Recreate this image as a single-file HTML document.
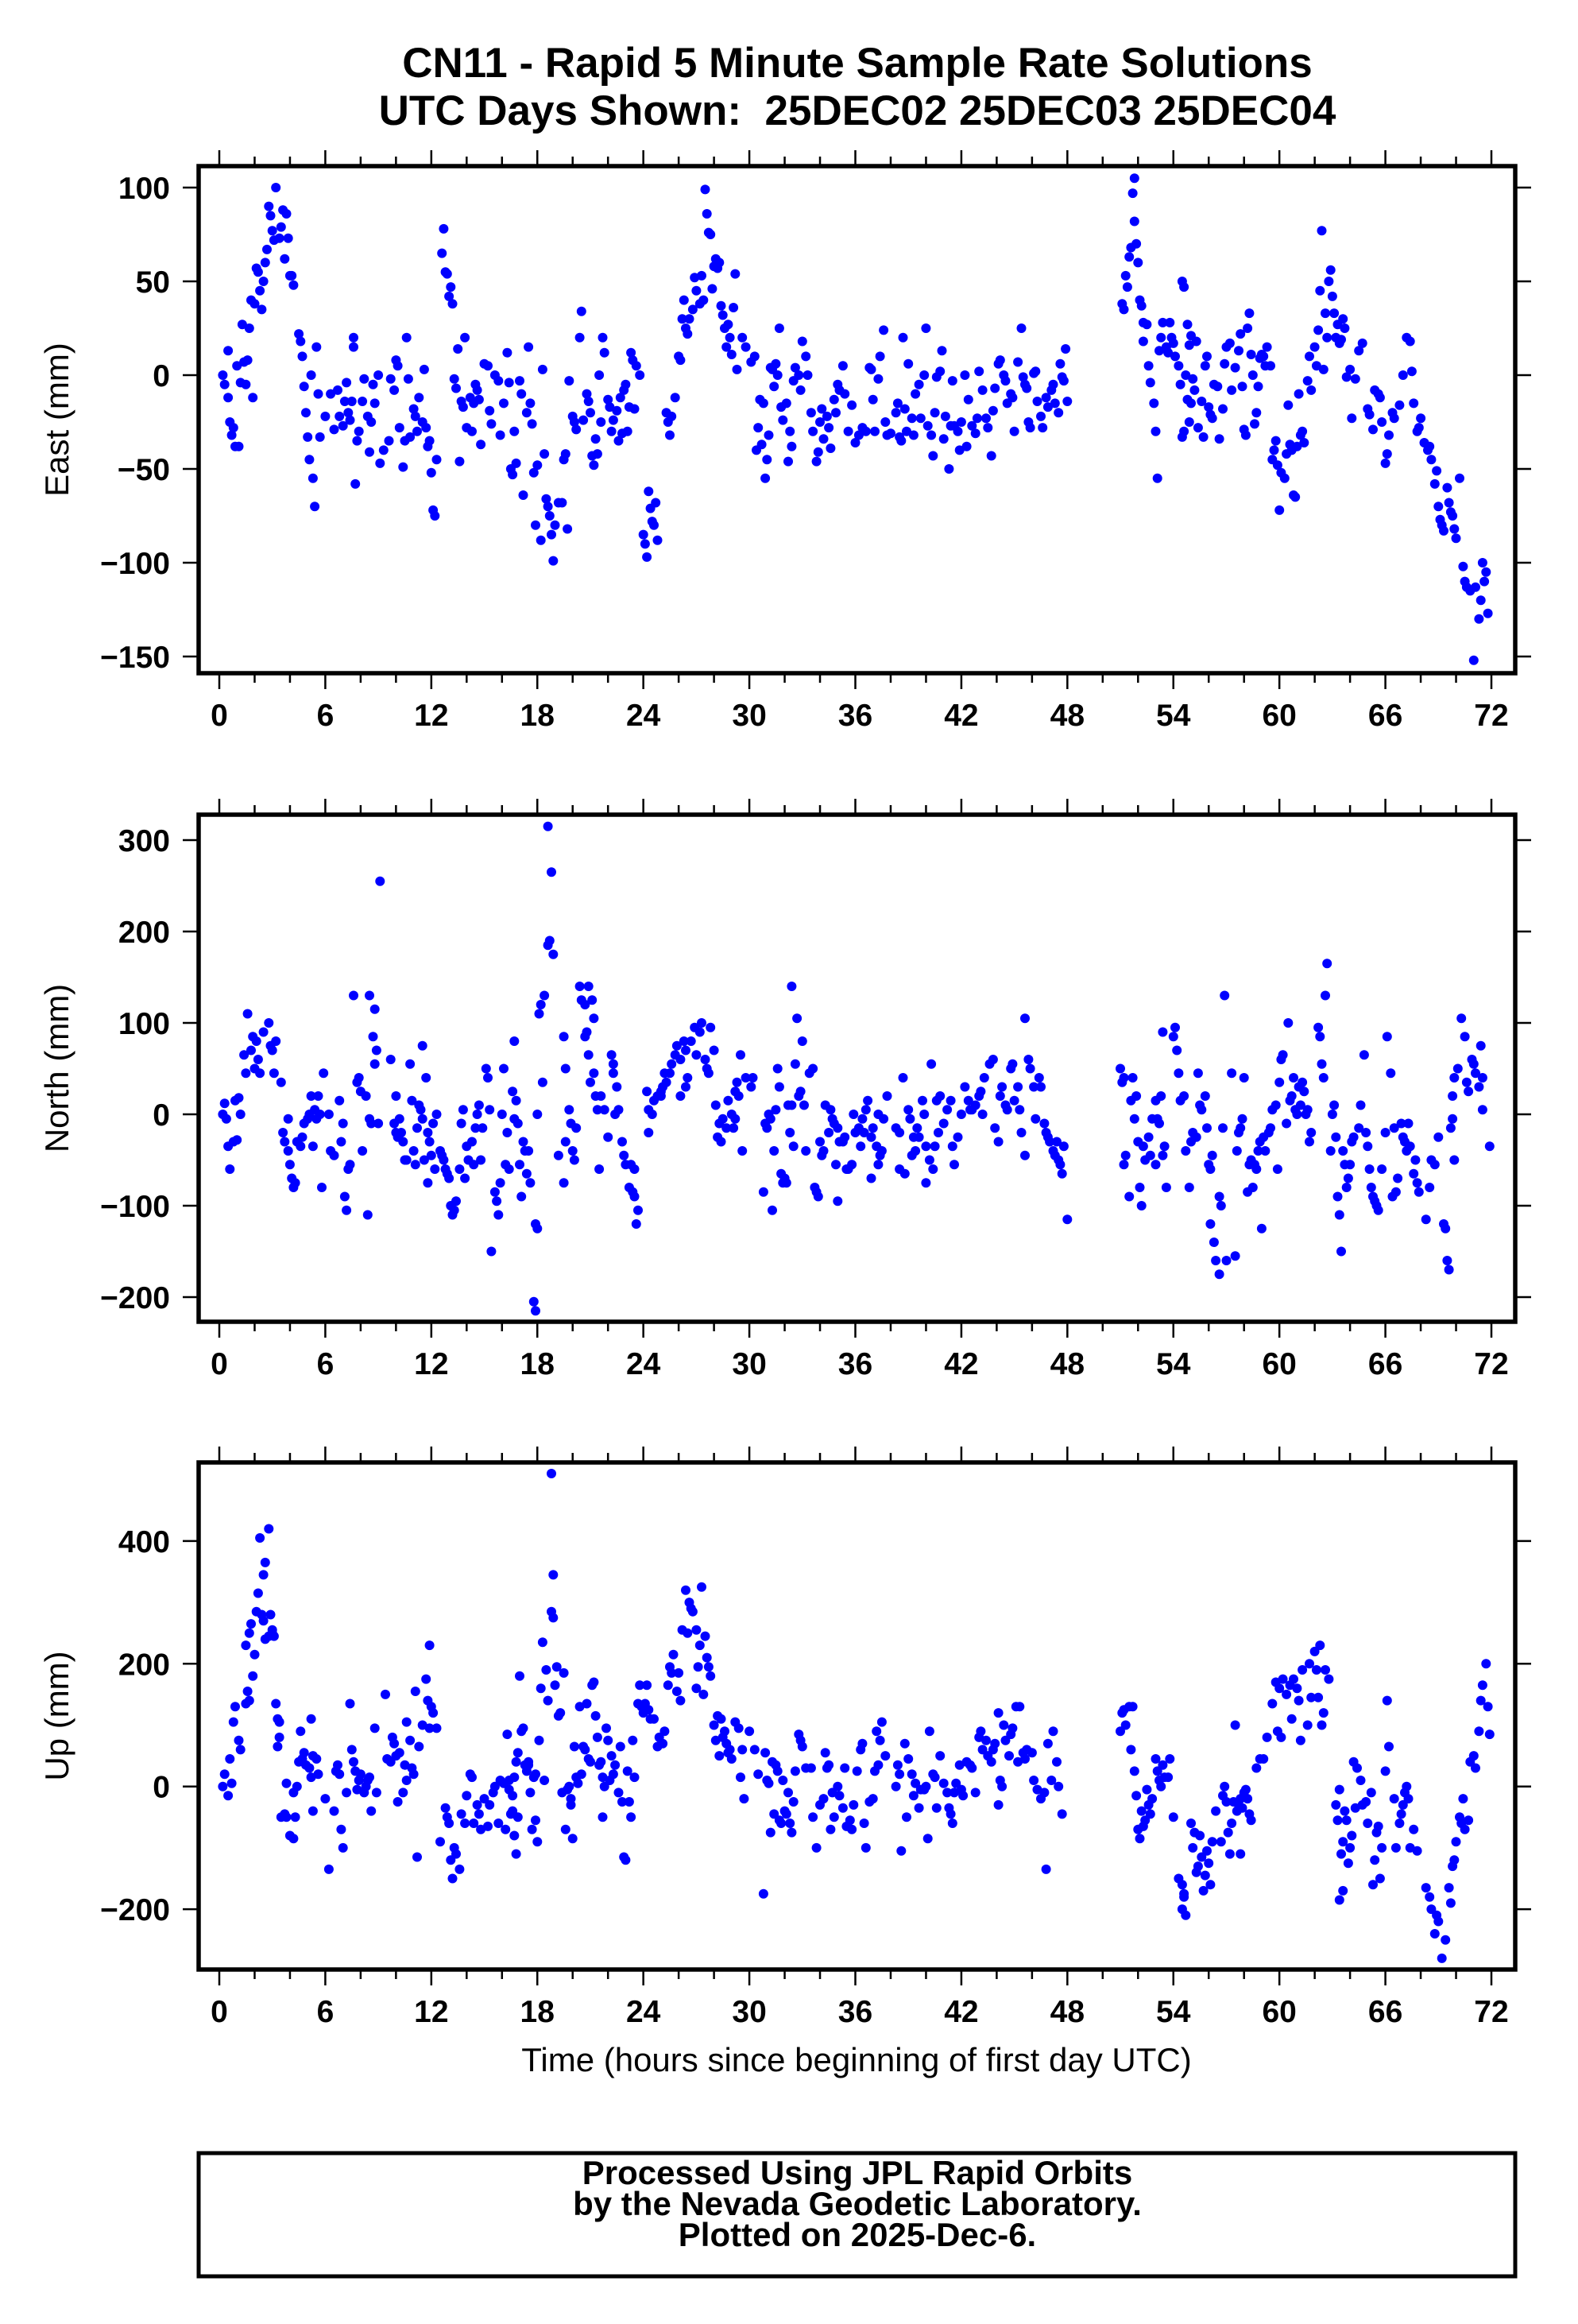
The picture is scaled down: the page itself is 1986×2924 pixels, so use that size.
<!DOCTYPE html>
<html><head><meta charset="utf-8"><title>CN11 Rapid 5 Minute Solutions</title>
<style>html,body{margin:0;padding:0;background:#fff}svg{display:block}</style></head>
<body>
<svg id="chart" xmlns="http://www.w3.org/2000/svg" width="1986" height="2924" viewBox="0 0 1986 2924" font-family="'Liberation Sans', Arial, sans-serif">
<rect width="1986" height="2924" fill="#fff"/>
<text x="1079" y="97" font-size="53" font-weight="bold" text-anchor="middle">CN11 - Rapid 5 Minute Sample Rate Solutions</text>
<text x="1079" y="157" font-size="53" font-weight="bold" text-anchor="middle" xml:space="preserve">UTC Days Shown:  25DEC02 25DEC03 25DEC04</text>
<text x="1078" y="2606" font-size="42" text-anchor="middle">Time (hours since beginning of first day UTC)</text>
<rect x="250" y="2709" width="1657" height="155" fill="none" stroke="#000" stroke-width="5"/>
<text x="1079" y="2748" font-size="42" font-weight="bold" text-anchor="middle">Processed Using JPL Rapid Orbits</text>
<text x="1079" y="2787" font-size="42" font-weight="bold" text-anchor="middle">by the Nevada Geodetic Laboratory.</text>
<text x="1079" y="2826" font-size="42" font-weight="bold" text-anchor="middle">Plotted on 2025-Dec-6.</text>
</svg>
<script>
const xTicks=[0,6,12,18,24,30,36,42,48,54,60,66,72];
const eastTicks=[100,50,0,-50,-100,-150];
const northTicks=[300,200,100,0,-100,-200];
const upTicks=[400,200,0,-200];
const east=[[0.2,0],[0.3,-5],[0.5,13],[0.5,-12],[0.6,-25],[0.7,-32],[0.8,-28],[0.9,-38],[1.0,5],[1.1,-38],[1.2,-4],[1.4,7],[1.3,27],[1.5,-5],[1.6,8],[1.7,25],[1.8,40],[1.9,-12],[2.0,38],[2.1,57],[2.2,55],[2.3,45],[2.4,35],[2.5,50],[2.6,60],[2.7,67],[2.8,90],[2.9,85],[3.0,77],[3.1,72],[3.2,100],[3.4,73],[3.5,79],[3.6,88],[3.7,62],[3.8,86],[3.9,73],[4.0,53],[4.1,53],[4.2,48],[4.5,22],[4.6,18],[4.7,10],[4.8,-6],[4.9,-20],[5.0,-33],[5.1,-45],[5.2,0],[5.3,-55],[5.4,-70],[5.6,-10],[5.5,15],[5.7,-33],[6.0,-22],[6.3,-10],[6.5,-29],[6.7,-8],[6.8,-22],[7.0,-27],[7.1,-14],[7.2,-4],[7.3,-20],[7.4,-24],[7.5,-14],[7.6,20],[7.6,15],[7.7,-58],[7.8,-35],[7.9,-30],[8.1,-14],[8.2,-2],[8.4,-22],[8.5,-41],[8.6,-25],[8.7,-5],[8.8,-15],[9.0,0],[9.1,-47],[9.3,-40],[9.6,-35],[9.7,-2],[9.9,-8],[10.0,8],[10.1,5],[10.2,-28],[10.4,-49],[10.5,-35],[10.6,20],[10.7,-2],[10.8,-33],[11.0,-18],[11.1,-22],[11.2,-30],[11.3,-12],[11.5,-25],[11.6,3],[11.7,-28],[11.8,-38],[11.9,-35],[12.0,-52],[12.1,-72],[12.2,-75],[12.3,-45],[12.6,65],[12.7,78],[12.8,55],[12.9,54],[13.0,42],[13.1,47],[13.2,38],[13.3,-2],[13.4,-7],[13.5,14],[13.6,-46],[13.7,-14],[13.8,-17],[13.9,20],[14.0,-28],[14.2,-12],[14.3,-30],[14.4,-15],[14.5,-5],[14.6,-8],[14.7,-13],[14.8,-37],[15.0,6],[15.2,5],[15.3,-19],[15.4,-26],[15.6,0],[15.8,-3],[15.9,-32],[16.1,-15],[16.3,12],[16.4,-4],[16.5,-50],[16.6,-53],[16.7,-30],[16.8,-47],[17.0,-3],[17.1,-10],[17.2,-64],[17.4,-20],[17.5,15],[17.6,-15],[17.7,-26],[17.8,-52],[17.9,-80],[18.0,-48],[18.2,-88],[18.3,3],[18.4,-42],[18.5,-66],[18.6,-70],[18.7,-75],[18.8,-85],[18.9,-99],[19.0,-80],[19.2,-68],[19.4,-68],[19.5,-45],[19.6,-42],[19.7,-82],[19.8,-3],[20.0,-22],[20.1,-25],[20.2,-29],[20.4,20],[20.5,34],[20.6,-24],[20.8,-10],[20.9,-14],[21.0,-20],[21.1,-43],[21.2,-48],[21.3,-34],[21.4,-42],[21.5,0],[21.6,-25],[21.7,20],[21.8,12],[22.0,-13],[22.1,-17],[22.2,-30],[22.3,-24],[22.5,-19],[22.6,-35],[22.7,-12],[22.8,-31],[22.9,-8],[23.0,-5],[23.1,-30],[23.2,-17],[23.3,12],[23.4,8],[23.5,-18],[23.6,5],[23.8,0],[24.0,-85],[24.1,-90],[24.2,-97],[24.3,-62],[24.4,-71],[24.5,-78],[24.6,-80],[24.7,-68],[24.8,-88],[25.3,-20],[25.4,-25],[25.5,-32],[25.6,-22],[25.8,-12],[26.0,10],[26.1,8],[26.2,30],[26.3,40],[26.4,25],[26.5,22],[26.6,30],[26.8,35],[26.9,52],[27.0,45],[27.2,38],[27.3,53],[27.4,40],[27.5,99],[27.6,86],[27.7,76],[27.8,75],[27.9,46],[28.0,58],[28.1,62],[28.2,57],[28.3,60],[28.4,37],[28.5,32],[28.6,25],[28.7,15],[28.8,27],[28.9,20],[29.0,11],[29.1,36],[29.2,54],[29.3,3],[29.6,20],[29.8,15],[30.1,7],[30.3,10],[30.4,-40],[30.5,-28],[30.6,-13],[30.7,-37],[30.8,-15],[30.9,-55],[31.0,-45],[31.1,-32],[31.2,4],[31.3,3],[31.4,-6],[31.5,6],[31.6,0],[31.7,25],[31.8,-17],[31.9,-24],[32.1,-15],[32.2,-46],[32.3,-30],[32.4,-38],[32.5,-3],[32.6,4],[32.8,0],[32.9,-8],[33.0,18],[33.2,10],[33.3,0],[33.5,-20],[33.6,-30],[33.8,-46],[33.9,-41],[34.0,-25],[34.1,-18],[34.2,-34],[34.4,-22],[34.5,-28],[34.6,-39],[34.8,-13],[34.9,-20],[35.0,-5],[35.1,-8],[35.3,5],[35.4,-10],[35.6,-30],[35.8,-16],[36.0,-36],[36.2,-32],[36.4,-28],[36.6,-30],[36.8,4],[36.9,3],[37.0,-13],[37.1,-30],[37.3,-2],[37.4,10],[37.6,24],[37.7,-25],[37.8,-32],[38.0,-31],[38.3,-20],[38.4,-15],[38.5,-33],[38.6,-35],[38.7,20],[38.8,-18],[38.9,-30],[39.0,6],[39.2,-23],[39.3,-32],[39.4,-10],[39.6,-5],[39.7,-23],[39.9,0],[40.0,25],[40.1,-27],[40.3,-32],[40.4,-43],[40.5,-20],[40.6,-1],[40.8,2],[40.9,13],[41.0,-34],[41.1,-22],[41.3,-50],[41.4,-27],[41.5,-3],[41.6,-27],[41.8,-30],[41.9,-40],[42.0,-25],[42.2,0],[42.3,-38],[42.4,-13],[42.6,-27],[42.8,-31],[42.9,-23],[43.0,2],[43.2,-8],[43.4,-23],[43.5,-28],[43.7,-43],[43.8,-19],[43.9,-7],[44.1,6],[44.2,8],[44.4,0],[44.5,-3],[44.6,-15],[44.8,-10],[44.9,-12],[45.0,-30],[45.2,7],[45.4,25],[45.5,-1],[45.6,-5],[45.7,-7],[45.8,-25],[45.9,-28],[46.1,1],[46.2,2],[46.3,-14],[46.5,-22],[46.6,-28],[46.8,-12],[46.9,-17],[47.1,-8],[47.2,-5],[47.3,-15],[47.5,-20],[47.6,6],[47.7,-1],[47.8,-3],[47.9,14],[48.0,-14],[51.1,38],[51.2,35],[51.3,53],[51.4,47],[51.5,63],[51.6,68],[51.7,97],[51.8,105],[51.8,82],[51.9,70],[52.0,60],[52.1,40],[52.2,37],[52.3,28],[52.5,27],[52.3,18],[52.6,5],[52.7,-4],[52.9,-15],[53.0,-30],[53.1,-55],[53.2,13],[53.3,20],[53.4,28],[53.6,15],[53.7,12],[53.8,28],[53.9,20],[54.0,17],[54.1,10],[54.3,5],[54.4,-5],[54.5,-33],[54.6,-30],[54.7,0],[54.8,-13],[54.9,-25],[55.0,-15],[55.1,-2],[55.2,-8],[54.5,50],[54.6,47],[54.8,27],[54.9,16],[55.0,21],[55.3,18],[55.4,-28],[55.6,-14],[55.7,-33],[55.8,5],[55.9,10],[56.0,-17],[56.1,-21],[56.2,-23],[56.3,-5],[56.5,-6],[56.6,-34],[56.8,-18],[56.9,6],[57.0,15],[57.2,17],[57.3,-8],[57.5,4],[57.7,13],[57.8,22],[57.9,-6],[58.0,-29],[58.1,-32],[58.2,25],[58.3,33],[58.4,11],[58.5,0],[58.6,-26],[58.7,-20],[58.8,-6],[58.9,9],[59.0,11],[59.1,10],[59.2,5],[59.3,15],[59.5,5],[59.6,-45],[59.7,-40],[59.8,-35],[59.9,-48],[60.0,-72],[60.1,-52],[60.3,-55],[60.4,-42],[60.5,-16],[60.6,-37],[60.7,-40],[60.8,-64],[60.9,-65],[61.0,-38],[61.1,-10],[61.2,-32],[61.3,-30],[61.4,-36],[61.6,-3],[61.7,10],[61.8,-8],[62.0,15],[62.1,5],[62.2,24],[62.3,45],[62.4,77],[62.5,3],[62.6,33],[62.7,20],[62.8,50],[62.9,56],[63.0,42],[63.1,33],[63.2,20],[63.3,27],[63.4,17],[63.5,19],[63.6,30],[63.7,25],[63.8,-1],[64.0,3],[64.1,-23],[64.3,-2],[64.5,13],[64.7,17],[65.0,-18],[65.1,-21],[65.3,-29],[65.4,-8],[65.6,-10],[65.7,-12],[65.8,-25],[66.0,-47],[66.1,-42],[66.2,-32],[66.4,-20],[66.5,-23],[66.8,-16],[67.0,0],[67.2,20],[67.4,18],[67.5,2],[67.6,-15],[67.8,-30],[67.9,-28],[68.0,-23],[68.2,-36],[68.4,-40],[68.5,-38],[68.6,-45],[68.8,-58],[68.9,-51],[69.0,-70],[69.1,-77],[69.2,-80],[69.3,-83],[69.5,-60],[69.6,-68],[69.7,-73],[69.8,-75],[69.9,-82],[70.0,-87],[70.2,-55],[70.4,-102],[70.5,-110],[70.6,-113],[70.8,-115],[71.0,-152],[71.1,-113],[71.3,-130],[71.4,-120],[71.5,-100],[71.7,-105],[71.6,-110],[71.8,-127]];
const north=[[0.2,0],[0.3,12],[0.4,-5],[0.5,-35],[0.6,-60],[0.8,-30],[0.9,15],[1.0,-28],[1.1,18],[1.2,0],[1.4,65],[1.6,110],[1.5,45],[1.8,70],[1.9,85],[2.0,50],[2.1,80],[2.2,60],[2.3,45],[2.5,90],[2.8,100],[2.9,75],[3.0,70],[3.2,80],[3.1,45],[3.5,35],[3.6,-20],[3.7,-30],[3.9,-40],[3.9,-5],[4.0,-55],[4.1,-70],[4.2,-80],[4.3,-75],[4.4,-30],[4.6,-35],[4.7,-25],[4.8,-10],[5.0,-5],[5.1,0],[5.2,20],[5.3,-35],[5.4,5],[5.5,-5],[5.6,20],[5.7,0],[5.8,-80],[5.9,45],[6.2,0],[6.3,-40],[6.5,-45],[6.8,15],[6.9,-30],[7.0,-10],[7.1,-90],[7.2,-105],[7.3,-60],[7.4,-55],[7.6,130],[7.8,35],[7.9,40],[8.0,25],[8.1,-40],[8.3,20],[8.5,-5],[8.5,130],[8.8,115],[8.7,85],[8.9,70],[8.8,55],[8.4,-110],[8.6,-10],[9.0,-10],[9.1,255],[9.7,60],[9.9,-10],[10.0,-20],[10.1,-25],[10.0,20],[10.2,-5],[10.3,-20],[10.4,-30],[10.5,-50],[10.6,-50],[10.8,55],[10.9,15],[11.0,-40],[11.1,-55],[11.2,-15],[11.3,10],[11.4,5],[11.5,-5],[11.6,-50],[11.5,75],[11.7,40],[11.8,-20],[11.9,-30],[12.0,-45],[12.1,-10],[12.2,-60],[11.8,-75],[12.3,0],[12.6,-45],[12.7,-50],[12.5,-40],[12.8,-60],[12.9,-65],[13.0,-70],[13.1,-100],[13.2,-110],[13.3,-105],[13.4,-95],[13.6,-60],[13.7,-10],[13.8,5],[13.9,-70],[14.0,-35],[14.1,-50],[14.3,-30],[14.4,-55],[14.5,-15],[14.6,0],[14.7,10],[14.9,-15],[14.8,-50],[15.1,50],[15.2,40],[15.3,5],[15.4,-150],[15.6,-85],[15.7,-95],[15.8,-110],[15.9,-75],[16.1,50],[16.0,0],[16.2,-55],[16.3,-20],[16.4,-60],[16.6,25],[16.7,-5],[16.8,15],[16.9,-10],[17.0,-55],[16.7,80],[17.1,-90],[17.2,-30],[17.3,-40],[17.5,-40],[17.4,-65],[17.6,-75],[17.9,-120],[18.0,-125],[17.8,-205],[17.9,-215],[18.0,0],[18.1,110],[18.2,120],[18.4,130],[18.3,35],[18.6,185],[18.7,190],[18.8,265],[18.6,315],[18.9,175],[19.2,-45],[19.5,-75],[19.6,-30],[19.5,85],[19.6,50],[19.8,5],[19.9,-10],[20.0,-40],[20.1,-50],[20.2,-15],[20.4,140],[20.5,125],[20.7,120],[20.9,140],[20.8,90],[20.7,85],[20.9,65],[21.1,125],[21.2,105],[21.0,35],[21.2,45],[21.3,20],[21.4,5],[21.5,-60],[21.6,20],[21.8,5],[22.0,-25],[22.2,65],[22.3,55],[22.4,0],[22.3,45],[22.5,30],[22.6,5],[22.8,-30],[22.9,-45],[23.0,-55],[23.2,-80],[23.4,-85],[23.5,-90],[23.7,-105],[23.6,-120],[23.3,-55],[23.5,-60],[24.2,25],[24.3,5],[24.5,0],[24.3,-20],[24.6,15],[24.8,20],[25.0,25],[25.1,30],[25.2,45],[25.3,35],[25.0,20],[25.6,55],[25.8,65],[25.9,75],[26.1,60],[26.3,80],[25.5,45],[26.1,20],[26.4,70],[26.5,40],[26.4,30],[26.7,80],[26.9,95],[27.0,65],[27.2,90],[27.3,100],[27.5,60],[27.6,50],[27.8,95],[27.7,45],[28.0,70],[28.1,10],[28.2,-25],[28.4,-30],[28.3,-10],[28.5,-5],[28.7,-15],[28.8,15],[29.0,0],[29.1,-15],[29.2,25],[29.3,35],[29.4,20],[29.5,65],[29.2,-5],[29.6,-40],[29.8,40],[30.1,30],[30.2,40],[30.8,-85],[30.9,-10],[31.0,-15],[31.1,0],[31.2,-5],[31.3,-105],[31.4,-40],[31.6,50],[31.5,5],[31.7,30],[31.8,-65],[31.9,-75],[32.0,-70],[32.1,-75],[32.2,10],[32.4,10],[32.3,-20],[32.4,140],[32.6,55],[32.5,-35],[32.7,105],[32.8,20],[32.9,25],[33.0,80],[33.1,10],[33.2,-40],[33.4,45],[33.6,50],[33.7,-80],[33.9,-90],[33.8,-85],[34.0,-30],[34.1,-45],[34.2,-40],[34.3,10],[34.5,-20],[34.6,5],[34.7,-5],[34.8,-10],[34.9,-55],[35.0,-15],[35.1,-30],[35.3,-30],[35.4,-25],[35.5,-60],[35.6,-60],[35.0,-95],[35.8,-55],[35.9,0],[36.0,-20],[36.2,-15],[36.3,-35],[36.4,-5],[36.5,-20],[36.6,5],[36.7,15],[36.9,-25],[36.9,-70],[37.0,-15],[37.2,-35],[37.3,0],[37.3,-55],[37.4,-45],[37.6,-5],[37.8,20],[37.5,-40],[38.3,-15],[38.5,-20],[38.7,40],[38.5,-60],[38.8,-65],[39.0,5],[39.1,-5],[39.3,-25],[39.4,-40],[39.2,-45],[39.5,-15],[39.6,-25],[39.8,15],[39.9,0],[40.0,-35],[40.0,-75],[40.3,55],[40.2,-50],[40.4,-60],[40.5,-35],[40.6,15],[40.8,20],[40.7,-20],[41.0,-10],[41.2,5],[41.4,15],[41.6,-55],[41.5,-35],[41.8,-25],[42.0,0],[42.2,30],[42.4,15],[42.5,5],[42.6,5],[42.8,10],[43.0,20],[43.1,25],[43.3,40],[43.2,0],[43.6,55],[43.8,60],[43.9,-15],[44.1,-30],[44.2,20],[44.3,30],[44.5,10],[44.6,5],[44.8,50],[44.9,55],[45.0,15],[45.2,30],[45.3,5],[45.4,-20],[45.6,-45],[45.6,105],[45.8,60],[45.9,50],[46.1,30],[46.2,-5],[46.4,40],[46.5,30],[46.7,-10],[46.8,-20],[46.9,-25],[47.0,-30],[47.2,-40],[47.3,-45],[47.4,-30],[47.5,-50],[47.6,-55],[47.7,-65],[47.8,-35],[48.0,-115],[51.0,50],[51.2,40],[51.1,35],[51.2,-55],[51.3,-45],[51.5,-90],[51.6,15],[51.7,40],[51.8,-5],[51.9,20],[52.0,-30],[52.1,-80],[52.2,-100],[52.3,-35],[52.4,-50],[52.6,-25],[52.7,-45],[52.8,-5],[53.0,15],[53.1,-5],[53.0,-55],[53.2,-10],[53.4,-45],[53.6,-80],[53.3,20],[53.4,90],[53.5,-35],[54.1,95],[54.0,85],[54.2,70],[54.3,45],[54.4,15],[54.6,20],[54.9,-80],[54.7,-40],[55.0,-30],[55.1,-20],[55.3,-25],[55.4,45],[55.5,10],[55.6,5],[55.8,20],[55.9,-15],[56.0,-55],[56.1,-60],[56.2,-45],[56.1,-120],[56.3,-140],[56.4,-160],[56.6,-175],[56.6,-90],[56.7,-100],[56.9,130],[56.8,-15],[57.0,-160],[57.5,-155],[57.3,45],[57.6,-40],[57.7,-20],[57.8,-15],[57.9,-5],[58.0,40],[58.2,-85],[58.3,-55],[58.4,-50],[58.5,-80],[58.7,-60],[58.8,-40],[58.6,-55],[59.0,-125],[58.9,-30],[59.1,-25],[59.2,-40],[59.4,-20],[59.5,-15],[59.6,5],[59.8,10],[59.9,-60],[60.0,35],[60.1,60],[60.2,65],[60.5,100],[60.4,-10],[60.6,15],[60.7,20],[60.8,40],[60.9,5],[61.0,0],[61.1,30],[61.2,10],[61.3,35],[61.4,25],[61.5,0],[61.6,5],[61.7,-30],[62.2,95],[62.3,85],[62.4,55],[62.5,40],[61.8,-20],[62.6,130],[62.7,165],[62.9,-40],[63.0,0],[63.1,10],[63.2,-25],[63.3,-90],[63.4,-110],[63.5,-150],[63.6,-40],[63.7,-55],[63.8,-80],[63.9,-70],[64.0,-55],[64.2,-25],[64.1,-30],[64.5,-15],[64.6,10],[64.8,65],[64.9,-20],[65.0,-35],[65.1,-60],[65.2,-80],[65.3,-90],[65.4,-95],[65.5,-100],[65.6,-105],[65.8,-60],[66.1,85],[66.3,45],[66.0,-20],[66.5,-15],[66.4,-90],[66.6,-85],[66.7,-70],[66.9,-10],[67.0,-25],[67.2,-40],[67.1,-30],[67.3,-10],[67.4,-35],[67.7,-50],[67.6,-65],[67.8,-75],[67.9,-85],[68.3,-115],[68.5,-80],[68.6,-50],[68.8,-55],[69.3,-120],[69.4,-125],[69.5,-160],[69.6,-170],[69.0,-25],[69.7,-15],[69.8,-5],[69.8,20],[69.9,-50],[69.9,40],[70.1,50],[70.3,105],[70.5,85],[70.6,35],[70.7,25],[70.9,60],[71.0,55],[71.1,45],[71.4,75],[71.3,30],[71.5,40],[71.5,5],[71.9,-35]];
const up=[[0.2,0],[0.3,20],[0.5,-15],[0.7,5],[0.6,45],[0.9,130],[0.8,105],[1.1,75],[1.2,60],[1.5,135],[1.6,155],[1.7,140],[1.5,230],[1.7,250],[1.8,265],[1.9,180],[2.0,215],[2.1,285],[2.2,315],[2.4,280],[2.3,405],[2.5,270],[2.6,365],[2.5,345],[2.6,240],[2.8,245],[3.0,255],[2.8,420],[2.9,280],[3.1,245],[3.0,250],[3.2,135],[3.3,110],[3.4,105],[3.3,65],[3.4,80],[3.5,-50],[3.7,-45],[3.8,-50],[3.8,5],[4.0,-80],[4.2,-85],[4.3,-50],[4.2,-10],[4.4,0],[4.5,40],[4.7,45],[4.6,90],[4.8,55],[4.9,35],[5.1,30],[5.2,15],[5.2,110],[5.3,50],[5.5,45],[5.3,-40],[5.6,20],[6.0,-20],[6.2,-135],[6.5,-40],[6.6,25],[6.7,35],[6.8,20],[6.9,-70],[7.0,-100],[7.2,-10],[7.4,135],[7.5,60],[7.6,40],[7.8,-5],[7.7,25],[7.9,10],[8.0,20],[8.2,-10],[8.3,0],[8.4,10],[8.5,15],[8.6,-40],[8.8,95],[8.9,-10],[9.4,150],[9.5,45],[9.7,40],[9.8,80],[9.9,70],[10.0,50],[10.1,-25],[10.2,55],[10.4,-10],[10.5,35],[10.6,10],[10.6,105],[10.8,75],[10.9,30],[11.0,20],[11.2,-115],[11.1,155],[11.3,65],[11.5,100],[11.7,175],[11.8,140],[11.9,230],[12.0,130],[12.1,120],[11.9,95],[12.3,95],[12.5,-90],[12.8,-35],[12.9,-50],[13.0,-60],[13.1,-120],[13.2,-150],[13.4,-110],[13.3,-100],[13.6,-135],[13.7,-45],[13.9,-60],[14.0,-15],[14.2,20],[14.3,15],[14.4,-60],[14.6,-30],[14.7,-45],[14.8,-70],[15.0,-20],[15.2,-65],[15.3,-30],[15.5,-10],[15.6,0],[15.8,-60],[15.9,10],[16.1,5],[16.2,-70],[16.3,85],[16.4,-5],[16.6,-15],[16.7,-80],[16.8,-110],[16.9,55],[16.8,40],[16.7,15],[16.6,-40],[16.9,-50],[16.5,-45],[16.4,10],[17.0,180],[17.1,90],[17.2,95],[17.3,35],[17.4,25],[17.5,40],[17.6,-10],[17.7,-70],[17.8,15],[17.5,35],[17.9,20],[17.9,-55],[18.0,-90],[18.1,75],[18.2,160],[18.3,235],[18.4,10],[18.5,190],[18.6,140],[18.9,345],[18.8,285],[18.9,275],[18.8,510],[19.0,165],[19.1,195],[19.2,115],[19.3,120],[19.4,-10],[19.5,185],[19.6,-70],[19.7,-5],[19.8,0],[19.9,-20],[20.0,-85],[19.9,-30],[20.1,65],[20.2,15],[20.3,5],[20.4,130],[20.5,20],[20.6,65],[20.7,60],[20.8,135],[20.9,45],[21.0,40],[21.1,165],[21.2,170],[21.3,115],[21.4,80],[21.5,35],[21.6,40],[21.7,15],[21.8,0],[21.9,95],[22.0,75],[21.7,-50],[22.1,10],[22.2,50],[22.3,20],[22.4,35],[22.6,-10],[22.7,65],[22.8,-25],[22.9,-115],[23.0,-120],[23.1,25],[23.2,-25],[23.3,-50],[23.4,75],[23.5,15],[23.7,135],[23.8,165],[23.9,130],[24.0,120],[24.1,135],[24.2,165],[24.3,125],[24.4,110],[24.6,110],[24.8,65],[24.9,80],[25.1,70],[25.2,90],[25.4,165],[25.5,195],[25.6,185],[25.7,215],[25.9,155],[26.0,185],[26.1,140],[26.2,255],[26.4,320],[26.5,250],[26.6,300],[26.7,290],[26.8,285],[27.1,195],[27.0,160],[27.2,230],[27.0,255],[27.3,325],[27.4,150],[27.5,245],[27.6,210],[27.7,195],[27.8,180],[28.0,100],[28.1,75],[28.2,115],[28.3,50],[28.4,110],[28.5,80],[28.6,90],[28.7,70],[28.8,55],[28.9,60],[29.0,45],[29.2,105],[29.4,95],[29.5,15],[29.6,60],[29.7,-20],[30.0,90],[30.3,60],[30.5,20],[30.8,-175],[30.9,55],[31.0,10],[31.1,5],[31.2,-75],[31.4,-45],[31.3,40],[31.5,35],[31.6,25],[31.7,-55],[31.8,-60],[31.9,10],[32.0,-40],[32.1,-45],[32.2,-10],[32.3,-60],[32.4,-75],[32.6,25],[32.5,-25],[32.8,85],[32.9,75],[33.0,65],[33.2,30],[33.5,30],[33.6,-50],[33.8,-100],[34.0,-30],[34.2,-20],[34.3,55],[34.4,30],[34.5,35],[34.6,-70],[34.7,-10],[34.8,-50],[35.0,0],[35.1,-15],[35.3,-35],[35.4,30],[35.5,-65],[35.7,-55],[35.8,-70],[35.9,-30],[36.1,25],[36.3,60],[36.4,70],[36.5,-60],[36.6,-100],[36.8,-25],[37.0,-20],[37.1,25],[37.2,90],[37.3,35],[37.5,105],[37.4,75],[37.7,50],[38.3,0],[38.4,35],[38.5,20],[38.6,-105],[38.8,70],[38.9,-50],[39.0,45],[39.2,20],[39.3,-15],[39.4,5],[39.6,-35],[39.7,-5],[39.9,-5],[40.0,0],[40.2,90],[40.1,-85],[40.4,20],[40.5,15],[40.6,-35],[40.8,50],[41.0,5],[41.2,-10],[41.3,-35],[41.4,-45],[41.5,-60],[41.6,-10],[41.7,5],[41.9,35],[42.0,-5],[42.1,-15],[42.3,40],[42.5,35],[42.6,30],[42.8,-10],[43.0,80],[43.1,90],[43.2,60],[43.4,75],[43.5,50],[43.7,40],[43.8,60],[43.9,70],[44.1,-30],[44.2,10],[44.3,0],[44.1,120],[44.4,100],[44.5,75],[44.7,50],[44.8,85],[44.9,95],[45.1,130],[45.3,130],[45.2,40],[45.5,55],[45.6,45],[45.7,60],[46.0,55],[46.1,10],[46.3,-5],[46.5,-20],[46.8,-135],[46.7,-10],[46.9,70],[47.1,10],[47.2,90],[47.4,40],[47.5,0],[47.7,-45],[51.0,90],[51.1,120],[51.2,125],[51.3,100],[51.5,130],[51.7,130],[51.6,60],[51.8,25],[51.9,-15],[52.0,-70],[52.1,-85],[52.2,-40],[52.4,-55],[52.3,-65],[52.5,-5],[52.6,-30],[52.7,-45],[52.8,-20],[53.0,45],[53.1,25],[53.2,10],[53.3,0],[53.4,35],[53.5,15],[53.8,45],[53.7,15],[54.0,-50],[54.3,-150],[54.5,-200],[54.7,-210],[54.6,-175],[54.5,-160],[54.6,-180],[55.0,-60],[55.1,-100],[55.2,-75],[55.3,-140],[55.4,-130],[55.5,-80],[55.7,-170],[55.6,-115],[55.8,-145],[55.9,-105],[56.0,-125],[56.2,-90],[56.1,-160],[56.4,-40],[56.7,-90],[56.8,-15],[56.9,0],[57.0,-25],[57.1,-75],[57.2,-110],[57.3,-60],[57.4,-25],[57.6,-40],[57.7,-30],[57.8,-20],[57.9,-35],[58.0,-10],[57.8,-110],[58.1,-5],[58.2,-20],[57.5,100],[58.3,-45],[58.4,-55],[58.7,30],[58.9,45],[59.1,45],[59.3,80],[59.6,135],[59.8,170],[60.0,160],[60.2,175],[59.9,90],[60.1,80],[60.4,150],[60.6,165],[60.8,175],[60.7,110],[61.0,160],[61.1,140],[61.2,75],[61.3,190],[61.6,100],[61.7,200],[61.8,145],[62.0,220],[62.1,190],[62.3,230],[62.2,145],[62.5,120],[62.4,100],[62.6,190],[62.8,175],[63.2,-30],[63.3,-55],[63.4,-5],[63.5,-110],[63.6,-90],[63.4,-185],[63.6,-170],[63.7,-40],[63.8,-55],[63.9,-125],[64.0,-100],[64.1,-80],[64.2,40],[64.4,30],[64.3,-35],[64.6,10],[64.7,-30],[64.9,-25],[65.0,-60],[65.2,-10],[65.3,-160],[65.4,-120],[65.5,-75],[65.6,-65],[65.7,-150],[65.8,-100],[66.1,140],[66.2,65],[66.0,25],[66.5,-20],[66.6,-100],[66.8,-60],[66.9,-45],[67.0,-30],[67.1,-10],[67.2,0],[67.3,-20],[67.4,-100],[67.6,-70],[67.8,-105],[68.3,-165],[68.5,-180],[68.6,-200],[68.8,-240],[69.0,-220],[69.2,-280],[68.9,-210],[69.4,-250],[69.6,-165],[69.7,-190],[69.8,-130],[69.9,-120],[70.0,-90],[70.2,-50],[70.3,-60],[70.4,-20],[70.5,-70],[70.7,-55],[70.8,40],[71.0,50],[71.1,30],[71.3,90],[71.4,140],[71.5,165],[71.7,200],[71.8,130],[71.9,85]];

const NS='http://www.w3.org/2000/svg';
const svg=document.getElementById('chart');
const X0=276, XPH=(1877-276)/72, LEFT=250, RIGHT=1907;
function xs(t){return X0+t*XPH;}
function mk(tag,attrs,parent){const e=document.createElementNS(NS,tag);for(const k in attrs)e.setAttribute(k,attrs[k]);(parent||svg).appendChild(e);return e;}
function fmt(v){return v<0?'\u2212'+Math.abs(v):String(v);}

const panels=[
 {name:'east',top:209,bottom:847,zero:472,ppm:2.36,ticks:eastTicks,data:east,title:'East (mm)'},
 {name:'north',top:1025,bottom:1663,zero:1402,ppm:1.15,ticks:northTicks,data:north,title:'North (mm)'},
 {name:'up',top:1840,bottom:2478,zero:2247.7,ppm:0.772,ticks:upTicks,data:up,title:'Up (mm)'}
];

panels.forEach(p=>{
  const ys=v=>p.zero-v*p.ppm;
  const g=mk('g',{});
  
  
  const dots=mk('g',{fill:'#0000ff'},g);
  
  
  p.data.forEach(d=>{
    const c=mk('circle',{cx:xs(d[0]).toFixed(1),cy:ys(d[1]).toFixed(1),r:6},dots);
    
    
  });
  const fr=mk('rect',{x:LEFT,y:p.top,width:RIGHT-LEFT,height:p.bottom-p.top,fill:'none',stroke:'#000','stroke-width':5.5},g);
  
  
  for(let h=0;h<=72;h+=2){
    const major=h%6===0, len=major?18:10, x=xs(h);
    mk('line',{x1:x,x2:x,y1:p.top-2,y2:p.top-2-len,stroke:'#000','stroke-width':2.5},g);
    mk('line',{x1:x,x2:x,y1:p.bottom+2,y2:p.bottom+2+len,stroke:'#000','stroke-width':2.5},g);
  }
  xTicks.forEach(h=>{
    const t=mk('text',{x:xs(h),y:p.bottom+66,'font-size':39,'font-weight':'bold','text-anchor':'middle'},g);
    
    
    t.textContent=h;
  });
  p.ticks.forEach(v=>{
    const y=ys(v);
    mk('line',{x1:RIGHT+2,x2:RIGHT+20,y1:y,y2:y,stroke:'#000','stroke-width':2.5},g);
    mk('line',{x1:LEFT-2,x2:LEFT-20,y1:y,y2:y,stroke:'#000','stroke-width':2.5},g);
    const t=mk('text',{x:214,y:y+14,'font-size':39,'font-weight':'bold','text-anchor':'end'},g);
    
    
    t.textContent=fmt(v);
  });
  const cy=(p.top+p.bottom)/2;
  const at=mk('text',{x:75,y:cy,'font-size':42,'text-anchor':'middle',transform:'rotate(-90 75 '+cy+')','dominant-baseline':'middle'},g);
  
  
  at.textContent=p.title;
});
</script>
</body></html>
